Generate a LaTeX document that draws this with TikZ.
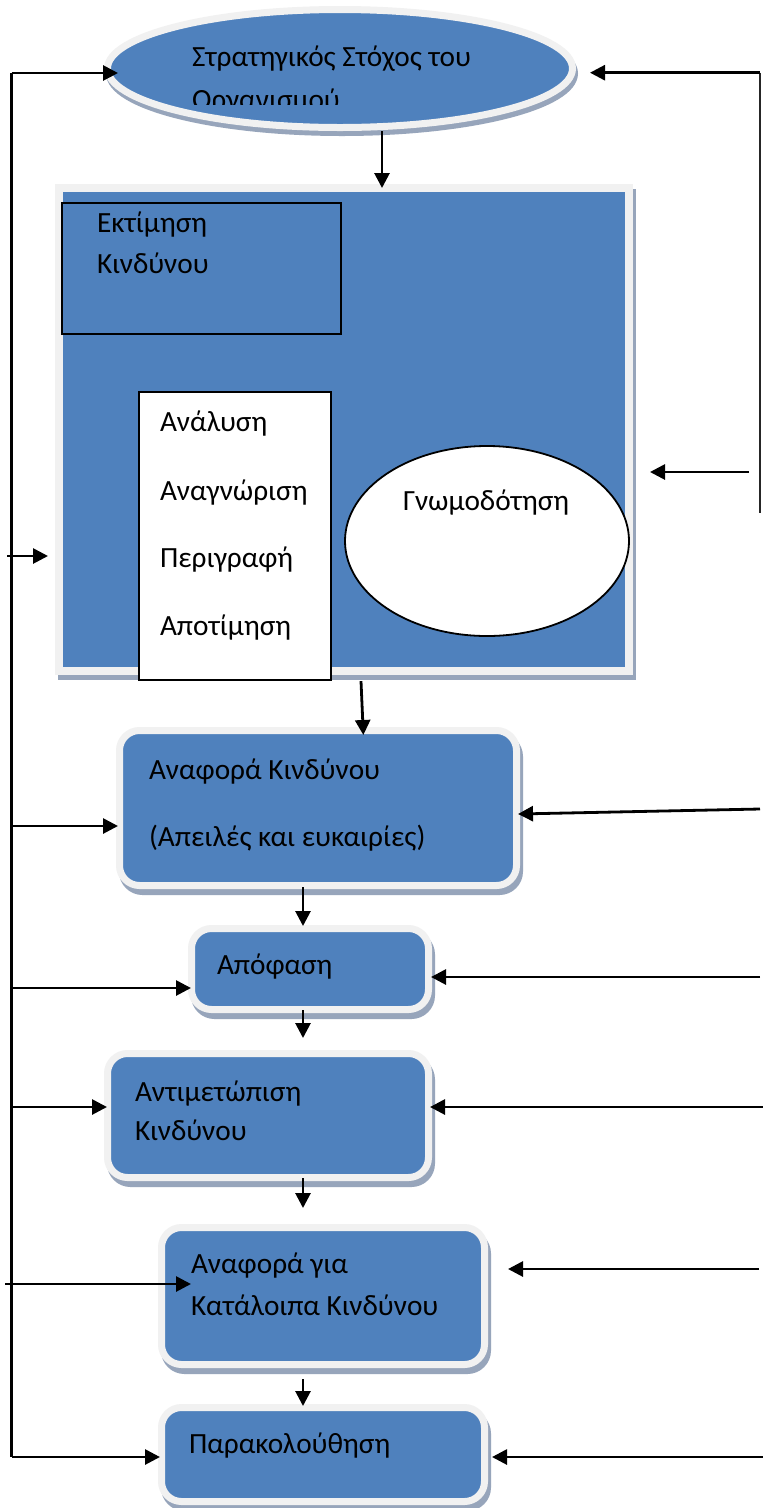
\documentclass[tikz,border=0pt]{standalone}
\usepackage{fontspec}
\setmainfont{Carlito}
\usetikzlibrary{arrows.meta,shapes.geometric}
\definecolor{boxblue}{HTML}{4F81BD}
\definecolor{ringgray}{HTML}{F1F1F1}
\definecolor{shadowblue}{HTML}{97A5BB}
\tikzset{
  arr/.style={line width=2.8pt, -{Triangle[length=15pt,width=15pt]}},
  plain/.style={line width=2.8pt},
  lbl/.style={anchor=base west, inner sep=0pt, outer sep=0pt},
  panel/.style={fill=boxblue, draw=ringgray, line width=7pt, rounded corners=20pt,
    inner sep=0pt,
    preaction={fill=shadowblue, draw=shadowblue, line width=7pt,
      transform canvas={xshift=3pt, yshift=-6pt}}},
  bigpanel/.style={fill=boxblue, draw=ringgray, line width=8pt, inner sep=0pt,
    preaction={fill=shadowblue, draw=shadowblue, line width=8pt,
      transform canvas={xshift=3pt, yshift=-5pt}}},
  goalshape/.style={ellipse, fill=boxblue, draw=ringgray, line width=7pt, inner sep=0pt,
    preaction={fill=shadowblue, draw=shadowblue, line width=7pt,
      transform canvas={xshift=2pt, yshift=-5pt}}},
  framebox/.style={draw=black, line width=2.2pt, inner sep=0pt},
}
\begin{document}
\begin{tikzpicture}[x=1pt, y=-1pt, font=\fontsize{29.3}{35}\selectfont]
\useasboundingbox[fill=white] (0,0) rectangle (763,1508);

% strategic goal
\node[goalshape, minimum width=465pt, minimum height=118pt] (goal) at (340,68.5) {};
\node[lbl] (goal1) at (192,66) {Στρατηγικός Στόχος του};
\begin{scope}
  \clip (0,0) rectangle (763,104);
  \node[lbl] (goal2) at (192,109) {Οργανισμού};
\end{scope}

% risk assessment panel
\node[bigpanel, minimum width=570pt, minimum height=483pt] (big) at (344,429.5) {};
\node[framebox, minimum width=279pt, minimum height=131pt] (assess) at (201.5,268.5) {};
\node[lbl] (assess1) at (97,232) {Εκτίμηση};
\node[lbl] (assess2) at (97,273) {Κινδύνου};
\node[framebox, fill=white, minimum width=192pt, minimum height=288pt] (steps) at (235,536) {};
\node[lbl] (s1) at (160,431) {Ανάλυση};
\node[lbl] (s2) at (160,500) {Αναγνώριση};
\node[lbl] (s3) at (160,567) {Περιγραφή};
\node[lbl] (s4) at (160,635) {Αποτίμηση};
\node[ellipse, draw=black, fill=white, line width=1.8pt, inner sep=0pt,
      minimum width=284pt, minimum height=190pt] (advice) at (487,541) {};
\node[lbl] (advice1) at (403,510) {Γνωμοδότηση};

% process steps
\node[panel, minimum width=397pt, minimum height=155pt] (report) at (318,808) {};
\node[lbl] (report1) at (149,779) {Αναφορά Κινδύνου};
\node[lbl] (report2) at (149,846) {(Απειλές και ευκαιρίες)};

\node[panel, minimum width=237pt, minimum height=81pt] (decision) at (310,969) {};
\node[lbl] (decision1) at (217,974) {Απόφαση};

\node[panel, minimum width=321pt, minimum height=124pt] (treat) at (268,1115.5) {};
\node[lbl] (treat1) at (135,1101) {Αντιμετώπιση};
\node[lbl] (treat2) at (135,1140) {Κινδύνου};

\node[panel, minimum width=323pt, minimum height=137pt] (resid) at (323,1296) {};
\node[lbl] (resid1) at (191,1273) {Αναφορά για};
\node[lbl] (resid2) at (191,1315) {Κατάλοιπα Κινδύνου};

\node[panel, minimum width=323pt, minimum height=94pt] (monitor) at (323,1454.5) {};
\node[lbl] (monitor1) at (189,1453) {Παρακολούθηση};

% feedback line on the left
\coordinate (LT) at (11.5,73);
\coordinate (LB) at (11.5,1457);
\coordinate (Lbig) at (7,556);
\coordinate (Lrep) at (11.5,826);
\coordinate (Ldec) at (11.5,988);
\coordinate (Ltre) at (11.5,1107);
\coordinate (Lres) at (5,1284);
\draw[plain] (LT) -- (LB);
\draw[arr, shorten >=-14pt] (LT) -- (LT -| goal.west);
\draw[arr, shorten >=7pt] (Lbig) -- (Lbig -| big.west);
\draw[arr, shorten >=-2pt] (Lrep) -- (Lrep -| report.west);
\draw[arr, shorten >=-3pt] (Ldec) -- (Ldec -| decision.west);
\draw[arr, shorten >=-3pt] (Ltre) -- (Ltre -| treat.west);
\draw[arr, shorten >=-33pt] (Lres) -- (Lres -| resid.west);
\draw[arr, shorten >=-2pt] (LB) -- (LB -| monitor.west);

% inputs from the right
\coordinate (RT) at (760,72.7);
\coordinate (RB) at (760,513);
\coordinate (Rbig) at (749,472);
\coordinate (Rrep) at (760,809);
\coordinate (Rdec) at (760,977);
\coordinate (Rtre) at (763,1107);
\coordinate (Rres) at (759,1269);
\coordinate (Rmon) at (763,1457);
\draw[line width=2.6pt, draw=black!85] (RT) -- (RB);
\draw[arr, shorten >=14pt] (RT) -- (RT -| goal.east);
\draw[arr, shorten >=17pt] (Rbig) -- (Rbig -| big.east);
\draw[arr] (Rrep) -- ([xshift=-2pt, yshift=-6pt]report.east);
\draw[arr, shorten >=-1pt] (Rdec) -- (Rdec -| decision.east);
\draw[arr, shorten >=-2pt] (Rtre) -- (Rtre -| treat.east);
\draw[arr, shorten >=20pt] (Rres) -- (Rres -| resid.east);
\draw[arr, shorten >=4pt] (Rmon) -- (Rmon -| monitor.east);

% main flow
\coordinate (vg) at (382,0);
\coordinate (vb) at (361,0);
\coordinate (vr) at (363,0);
\coordinate (vm) at (303,0);
\draw[arr, shorten >=-4pt] (goal.south -| vg) -- (big.north -| vg);
\draw[arr, shorten >=-8pt] (steps.south -| vb) -- (report.north -| vr);
\draw[arr, shorten <=-2pt, shorten >=-1pt] (report.south -| vm) -- (decision.north -| vm);
\draw[arr, shorten <=-3pt, shorten >=12pt] (decision.south -| vm) -- (treat.north -| vm);
\draw[arr, shorten <=-3pt, shorten >=16pt] (treat.south -| vm) -- (resid.north -| vm);
\draw[arr, shorten <=11pt, shorten >=-2pt] (resid.south -| vm) -- (monitor.north -| vm);
\end{tikzpicture}
\end{document}
